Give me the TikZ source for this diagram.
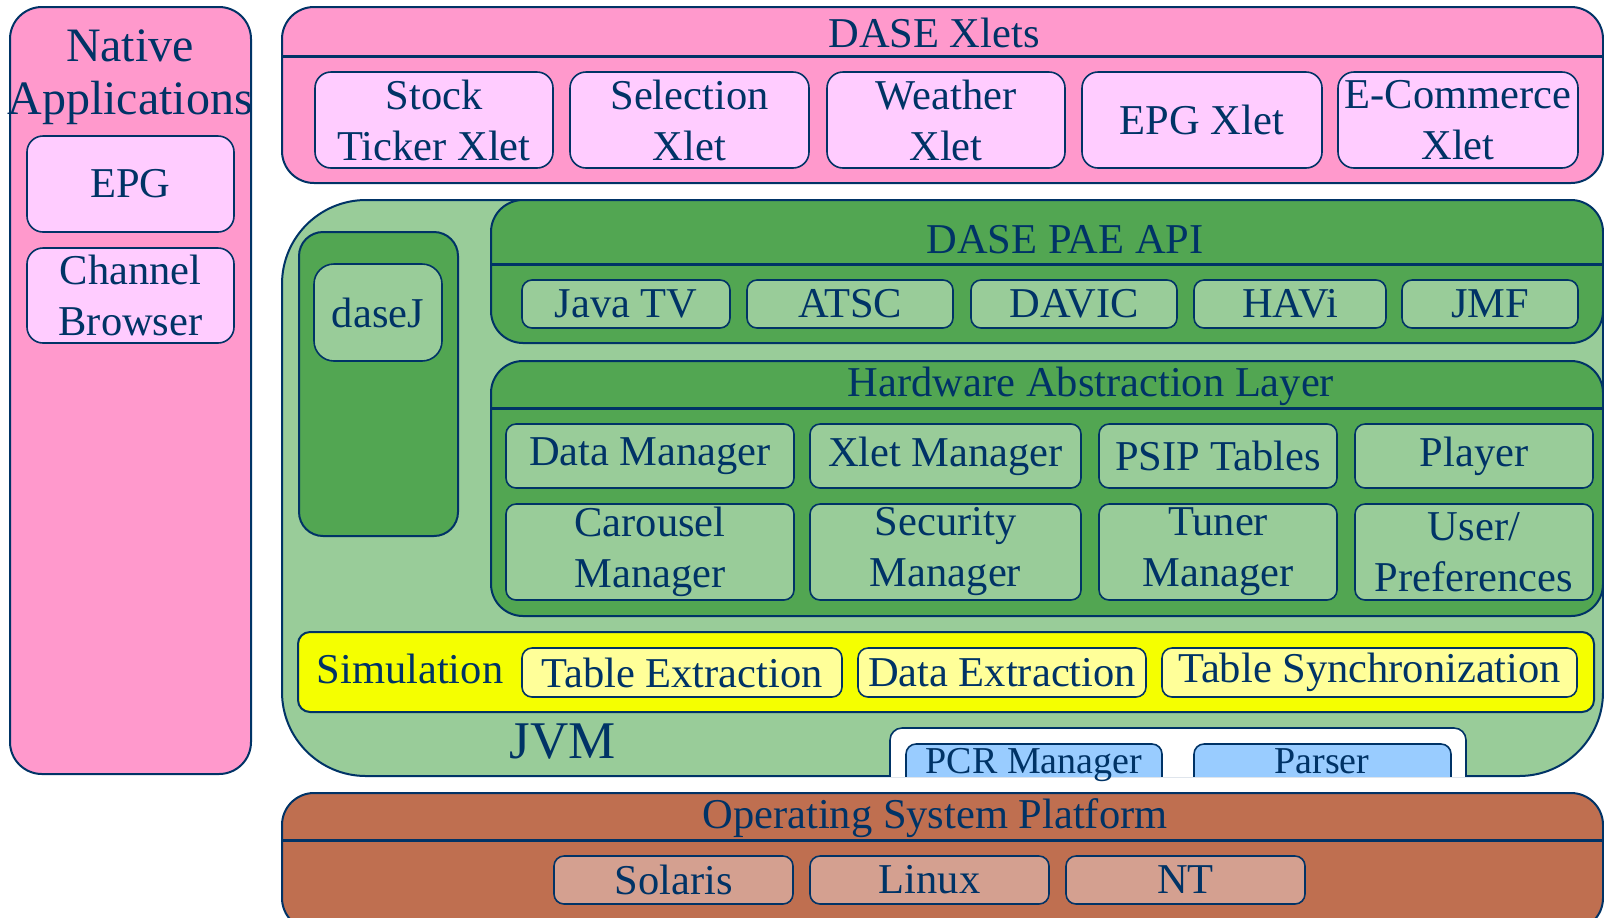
\documentclass[tikz,border=0pt]{standalone}
\usepackage{fontspec}
\setmainfont{Liberation Serif}
\definecolor{navy}{RGB}{0,51,102}
\definecolor{xletpink}{RGB}{255,153,204}
\definecolor{apppink}{RGB}{255,204,255}
\definecolor{jvmgreen}{RGB}{153,204,153}
\definecolor{apigreen}{RGB}{82,166,82}
\definecolor{simyellow}{RGB}{245,255,0}
\definecolor{extyellow}{RGB}{255,255,153}
\definecolor{pcrblue}{RGB}{153,204,255}
\definecolor{osbrown}{RGB}{191,111,80}
\definecolor{ostan}{RGB}{212,160,144}
\tikzset{
  boxat/.style n args={4}{minimum width={(#3-#1)*0.5pt}, minimum height={(#4-#2)*0.5pt},
    at={({(#1+#3)/2},{(#2+#4)/2})}},
  layer/.style={draw=navy, line width=1pt, rounded corners=16pt, inner sep=0pt},
  item/.style={draw=navy, line width=0.8pt, rounded corners=5pt, inner sep=0pt, align=center},
  divider/.style={draw=navy, line width=1.5pt},
}
\begin{document}
\begin{tikzpicture}[x=0.5pt, y=-0.5pt, text=navy, font=\fontsize{21.25}{25.5}\selectfont]
    \useasboundingbox (0,0) rectangle (1604,917);
    \clip (0,0) rectangle (1604,917);
    % native applications
    \node[layer, fill=xletpink, boxat={10}{7}{251}{774}] (native) {};
    \node[align=center, font=\fontsize{24}{26.5}\selectfont] (nativetitle) at (130,77) {Native\\Applications};
    \node[item, fill=apppink, rounded corners=8pt, boxat={27}{136}{234}{232}] (epg) {EPG};
    \node[item, fill=apppink, rounded corners=8pt, boxat={27}{248}{234}{343}] (browser) {Channel\\Browser};
    % xlets
    \node[layer, fill=xletpink, boxat={282}{7}{1603}{183}] (xlets) {};
    \draw[divider] (xlets.west |- 0,56) -- (xlets.east |- 0,56);
    \node (xletstitle) at (934,33) {DASE Xlets};
    \foreach \n/\a/\b/\t in {stock/315/553/{Stock\\Ticker Xlet}, selection/570/809/{Selection\\Xlet},
        weather/827/1065/{Weather\\Xlet}, epgxlet/1082/1322/{EPG Xlet}, ecommerce/1338/1578/{E-Commerce\\Xlet}}
        \node[item, fill=apppink, rounded corners=8pt, boxat={\a}{72}{\b}{168}] (\n) {\t};
    % jvm
    \node[layer, fill=jvmgreen, rounded corners=42pt, boxat={282}{200}{1603}{776}] (jvm) {};
    \node[font=\fontsize{26.5}{30}\selectfont] (jvmtitle) at (563,742) {JVM};
    \node[layer, fill=apigreen, rounded corners=12pt, boxat={299}{232}{458}{536}] (dasej) {};
    \node[item, fill=jvmgreen, rounded corners=10pt, boxat={314}{264}{442}{361}] (dasejbox) {daseJ};
    % pae api
    \node[layer, fill=apigreen, boxat={491}{200}{1603}{343}] (pae) {};
    \draw[divider] (pae.west |- 0,264) -- (pae.east |- 0,264);
    \node (paetitle) at (1065,240) {DASE PAE API};
    \foreach \n/\a/\b/\t in {javatv/522/730/Java TV, atsc/747/953/ATSC, davic/971/1177/DAVIC,
        havi/1194/1386/HAVi, jmf/1402/1578/JMF}
        \node[item, fill=jvmgreen, boxat={\a}{280}{\b}{328}] (\n) {\t};
    % hardware abstraction layer
    \node[layer, fill=apigreen, boxat={491}{361}{1603}{616}] (hal) {};
    \draw[divider] (hal.west |- 0,408) -- (hal.east |- 0,408);
    \node (haltitle) at (1091,386) {Hardware Abstraction Layer};
    \foreach \n/\a/\b/\t in {datamgr/506/794/Data Manager, xletmgr/810/1081/Xlet Manager,
        psip/1099/1337/PSIP Tables, player/1355/1593/Player}
        \node[item, fill=jvmgreen, boxat={\a}{424}{\b}{488}] (\n) {\t};
    \foreach \n/\a/\b/\t in {carousel/506/794/{Carousel\\Manager}, security/810/1081/{Security\\Manager},
        tuner/1099/1337/{Tuner\\Manager}, prefs/1355/1593/{User/\\Preferences}}
        \node[item, fill=jvmgreen, boxat={\a}{504}{\b}{600}] (\n) {\t};
    % simulation
    \node[item, fill=simyellow, line width=1pt, rounded corners=6pt, boxat={298}{632}{1594}{712}] (sim) {};
    \node (simtitle) at (410,669) {Simulation};
    \foreach \n/\a/\b/\t in {tableext/522/842/Table Extraction, dataext/858/1146/Data Extraction,
        tablesync/1162/1577/Table Synchronization}
        \node[item, fill=extyellow, boxat={\a}{648}{\b}{697}] (\n) {\t};
    % pcr and parser, cut off by the jvm edge
    \begin{scope}
        \clip (282,0) rectangle (1603,776);
        \node[item, fill=white, rounded corners=6pt, boxat={890}{728}{1466}{800}] (timing) {};
        \node[item, fill=pcrblue, boxat={906}{744}{1162}{800}] (pcr) {};
        \node[item, fill=pcrblue, boxat={1194}{744}{1451}{800}] (parser) {};
    \end{scope}
    \node[font=\fontsize{19}{22}\selectfont, anchor=base] (pcrtitle) at (1034,773) {PCR Manager};
    \node[font=\fontsize{19}{22}\selectfont, anchor=base] (parsertitle) at (1322,773) {Parser};
    % operating system
    \node[layer, fill=osbrown, boxat={282}{793}{1603}{930}] (os) {};
    \draw[divider] (os.west |- 0,840) -- (os.east |- 0,840);
    \node (ostitle) at (935,818) {Operating System Platform};
    \foreach \n/\a/\b/\t in {solaris/554/793/Solaris, linux/810/1049/Linux, nt/1066/1305/NT}
        \node[item, fill=ostan, boxat={\a}{856}{\b}{904}] (\n) {\t};
\end{tikzpicture}
\end{document}
